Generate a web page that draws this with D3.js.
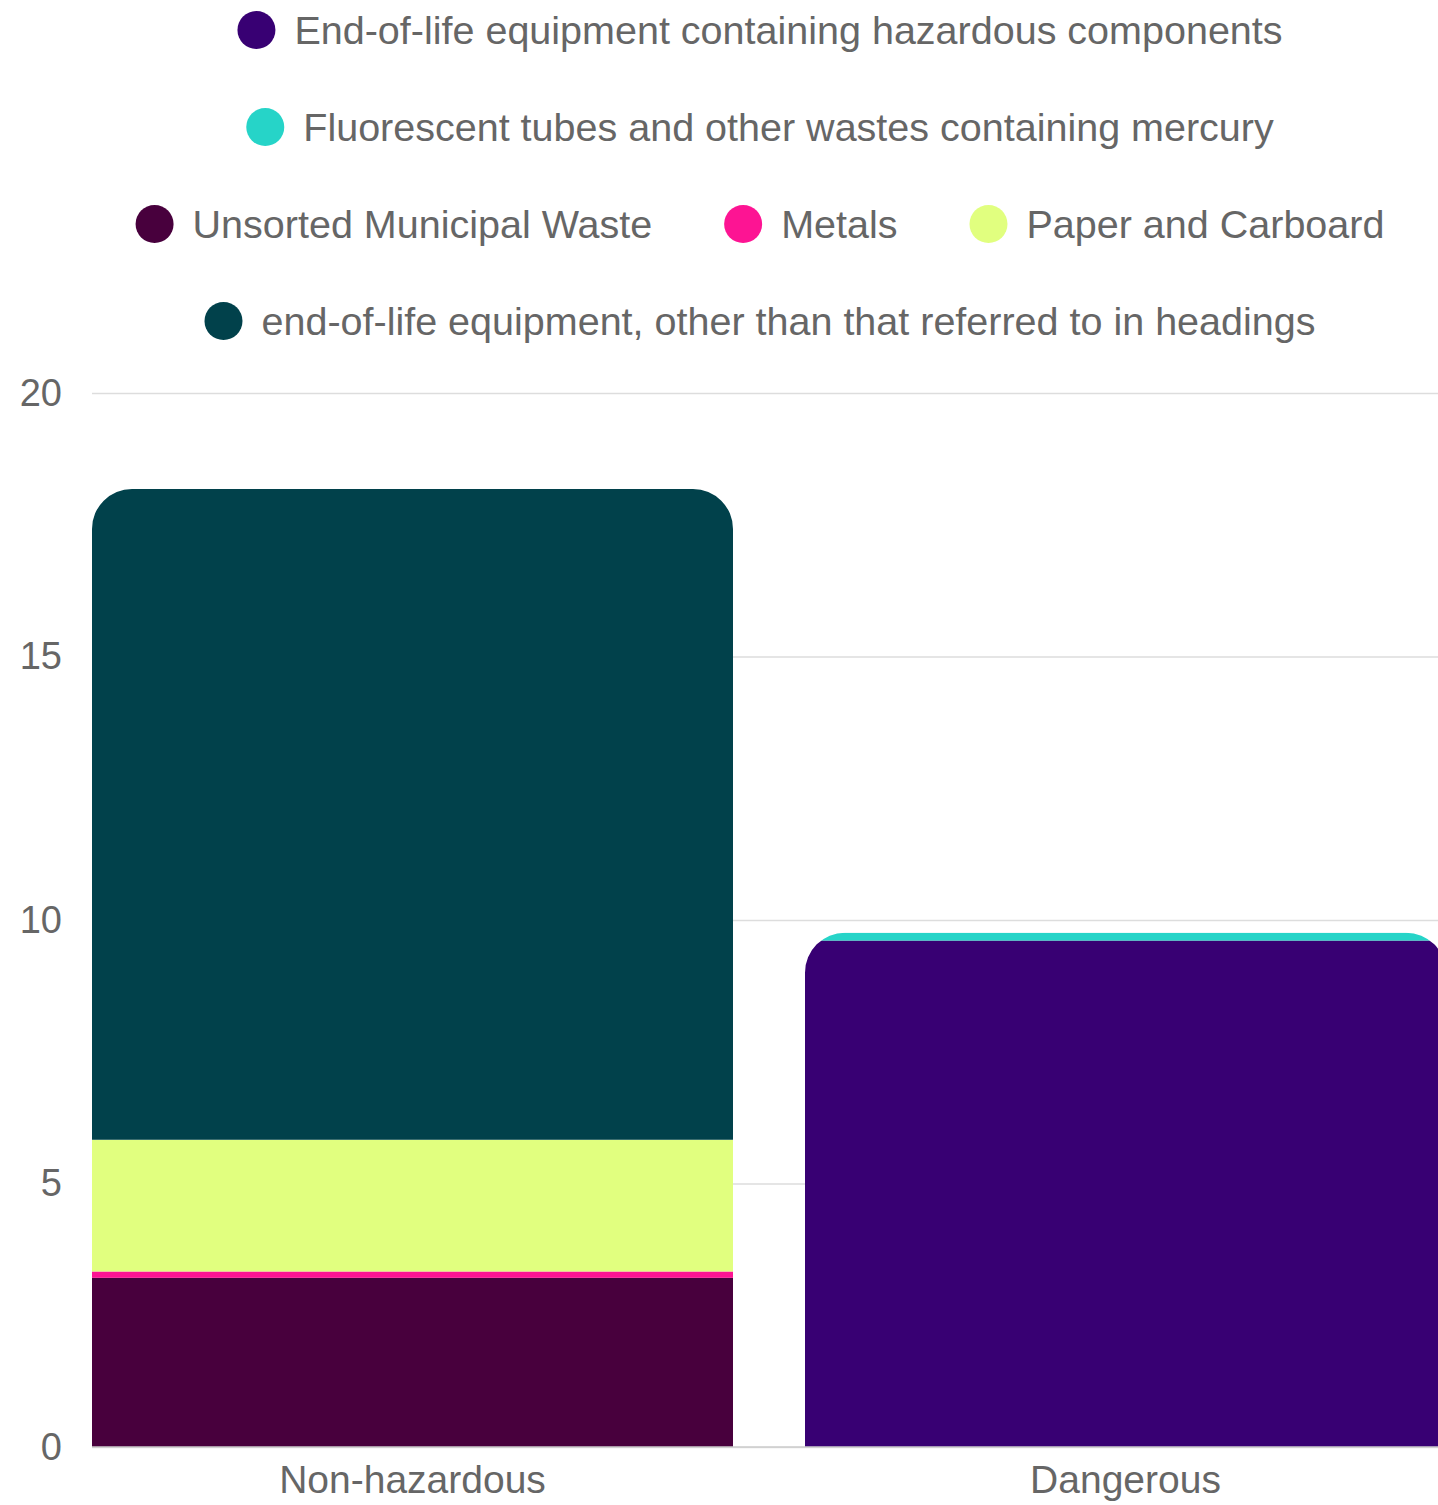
<!DOCTYPE html>
<html>
<head>
<meta charset="utf-8">
<script src="https://cdn.jsdelivr.net/npm/d3@7"></script>
<style>
  html, body { margin: 0; padding: 0; background: #fff; }
  svg { display: block; font-family: "Liberation Sans", Arial, Helvetica, sans-serif; }
</style>
</head>
<body>
<div id="chart"></div>
<script>
"use strict";

/* ── Data ── */
const categories = ["Non-hazardous", "Dangerous"];
const seriesNames = [
  "End-of-life equipment containing hazardous components",
  "Fluorescent tubes and other wastes containing mercury",
  "Unsorted Municipal Waste",
  "Metals",
  "Paper and Carboard",
  "end-of-life equipment, other than that referred to in headings"
];
const seriesColours = ["#380073", "#26d4c8", "#48003d", "#fd1493", "#e1ff7f", "#01414b"];
// values per series: [Non-hazardous, Dangerous]
const hazardousEquipment = [0, 9.61];
const fluorescentTubes   = [0, 0.15];
const unsortedWaste      = [3.21, 0];
const metals             = [0.12, 0];
const paperCardboard     = [2.50, 0];
const otherEquipment     = [12.35, 0];
const yTicks = [0, 5, 10, 15, 20];

const seriesValues = [hazardousEquipment, fluorescentTubes, unsortedWaste,
                      metals, paperCardboard, otherEquipment];

const rows = categories.map((c, i) => {
  const r = { category: c };
  seriesNames.forEach((s, j) => { r[s] = seriesValues[j][i]; });
  return r;
});

/* ── Dimensions ── */
const W = 1438, H = 1505;
const margin = { top: 393, right: 0, bottom: 58, left: 92 };
const innerW = W - margin.left - margin.right;
const innerH = H - margin.top - margin.bottom;
const textColour = "#666666";

const svg = d3.select("#chart").append("svg")
  .attr("width", W).attr("height", H);

/* ── Legend (greedy wrap, centred rows) ── */
const legendFont = 39.5;
const legendCentre = 760;
const legendG = svg.append("g").attr("class", "legend");
const measure = svg.append("text").attr("font-size", legendFont).attr("visibility", "hidden");
const items = seriesNames.map((name, i) => {
  measure.text(name);
  const tw = measure.node().getComputedTextLength();
  return { name, colour: seriesColours[i], w: 57 + tw };   // circle edge → text end
});
measure.remove();
const maxRowW = 1320, itemGap = 72;
const legendRows = [];
let cur = [];
let curW = 0;
items.forEach(it => {
  const add = cur.length ? itemGap + it.w : it.w;
  if (cur.length && curW + add > maxRowW) {
    legendRows.push({ items: cur, w: curW });
    cur = [it]; curW = it.w;
  } else {
    cur.push(it); curW += add;
  }
});
if (cur.length) legendRows.push({ items: cur, w: curW });

legendRows.forEach((row, ri) => {
  const cy = 30 + ri * 97;
  let left = legendCentre - row.w / 2;
  row.items.forEach(it => {
    legendG.append("circle")
      .attr("cx", left + 19).attr("cy", cy).attr("r", 19)
      .attr("fill", it.colour);
    legendG.append("text")
      .attr("x", left + 57).attr("y", cy)
      .attr("dy", "0.35em")
      .attr("font-size", legendFont)
      .attr("fill", textColour)
      .text(it.name);
    left += it.w + itemGap;
  });
});

const g = svg.append("g")
  .attr("transform", `translate(${margin.left},${margin.top})`);

/* ── Scales ── */
const y = d3.scaleLinear().domain([0, 20]).range([innerH, 0]);
// bands run a little past the right edge; the plot clips the second bar
const x = d3.scaleBand().domain(categories).range([0, innerW + 8])
  .paddingInner(0.101).paddingOuter(0);

/* ── Grid + Y axis ── */
g.append("g")
  .attr("class", "axis axis-y")
  .call(d3.axisLeft(y).tickValues(yTicks).tickSize(-innerW).tickPadding(30))
  .call(ax => {
    ax.select(".domain").remove();
    ax.selectAll(".tick line").attr("stroke", "#dddddd").attr("stroke-width", 1.5);
    ax.selectAll(".tick text").attr("fill", textColour).attr("font-size", 38)
      .attr("font-family", "Liberation Sans, Arial, sans-serif");
  });

/* ── Stacked bars ── */
const stacked = d3.stack().keys(seriesNames)(rows);
const radius = 40;
const defs = svg.append("defs");

defs.append("clipPath").attr("id", "plot-clip")
  .append("rect").attr("x", 0).attr("y", -10).attr("width", innerW).attr("height", innerH + 10);

categories.forEach((c, i) => {
  const total = d3.sum(seriesValues, v => v[i]);
  const x0 = x(c), bw = x.bandwidth();
  const yt = y(total), yb = y(0);
  const r = Math.min(radius, (yb - yt));
  const p = d3.path();
  p.moveTo(x0, yb);
  p.lineTo(x0, yt + r);
  p.arcTo(x0, yt, x0 + r, yt, r);
  p.lineTo(x0 + bw - r, yt);
  p.arcTo(x0 + bw, yt, x0 + bw, yt + r, r);
  p.lineTo(x0 + bw, yb);
  p.closePath();
  defs.append("clipPath").attr("id", "clip-" + i)
    .append("path").attr("d", p.toString());
});

const layers = g.append("g")
  .attr("clip-path", "url(#plot-clip)")
  .selectAll("g")
  .data(stacked)
  .join("g")
  .attr("fill", (d, i) => seriesColours[i]);

layers.selectAll("rect")
  .data(d => d.map((v, i) => ({ v, i })))
  .join("rect")
  .attr("clip-path", d => `url(#clip-${d.i})`)
  .attr("x", d => x(categories[d.i]))
  .attr("width", x.bandwidth())
  .attr("y", d => y(d.v[1]))
  .attr("height", d => Math.max(0, y(d.v[0]) - y(d.v[1])));

/* ── X axis ── */
g.append("g")
  .attr("class", "axis axis-x")
  .attr("transform", `translate(0,${innerH})`)
  .call(d3.axisBottom(x).tickSize(0).tickPadding(18))
  .call(ax => {
    ax.select(".domain").attr("d", `M0,0H${innerW}`)
      .attr("stroke", "#cccccc").attr("stroke-width", 1.5);
    ax.selectAll(".tick text").attr("fill", textColour).attr("font-size", 39)
      .attr("font-family", "Liberation Sans, Arial, sans-serif");
  });
</script>
</body>
</html>
